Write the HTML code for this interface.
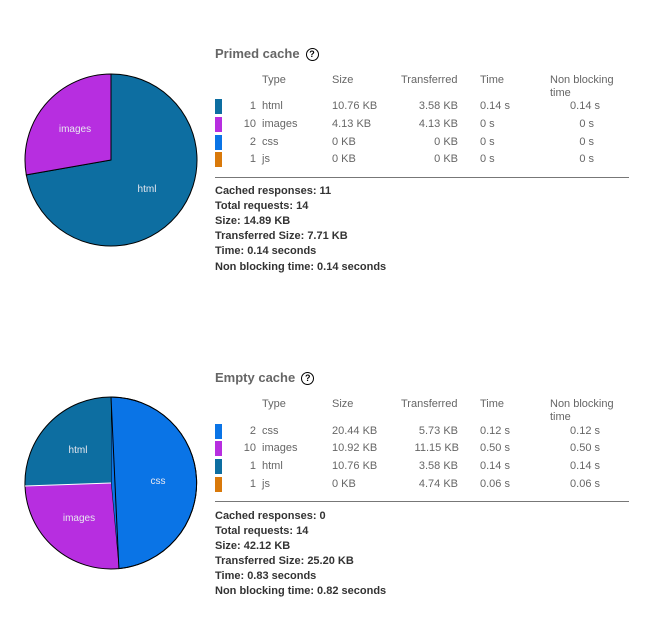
<!DOCTYPE html>
<html><head><style>
body{margin:0;width:655px;height:643px;background:#fff;font-family:"Liberation Sans",sans-serif;position:relative;overflow:hidden}
.a{position:absolute;white-space:nowrap;font-size:11px;color:#666;line-height:13px;margin-top:1px}
.t{position:absolute;font-size:13px;font-weight:bold;color:#666;line-height:15px}
.q{display:inline-block;width:11px;height:11px;border:1.5px solid #000;border-radius:50%;font-size:9px;color:#000;text-align:center;line-height:11px;margin-left:6px;vertical-align:1px}
.s{position:absolute;font-size:11px;font-weight:bold;color:#333;line-height:13px;white-space:nowrap;margin-top:1px}
.sw{position:absolute;width:7px;height:15px}
.r{text-align:right}
.hr{position:absolute;left:215px;width:414px;height:1px;background:#777}
</style></head><body>
<svg width="655" height="643" style="position:absolute;left:0;top:0">
<g stroke="#000" stroke-width="1">
<path d="M111,160 L111,74 A86,86 0 1 1 26.3,174.9 Z" fill="#0d6ea1"/>
<path d="M111,160 L26.3,174.9 A86,86 0 0 1 111,74 Z" fill="#b72ee0"/>
<path d="M111,483 L111,397 A86,86 0 0 1 118.9,568.6 Z" fill="#0a74e6"/>
<path d="M111,483 L118.9,568.6 A86,86 0 0 1 25,486 Z" fill="#b72ee0" stroke="none"/>
<path d="M111,483 L25,486 A86,86 0 0 1 111,397 Z" fill="#0d6ea1" stroke="none"/>
<path d="M111,397 A86,86 0 0 1 118.9,568.6 M118.9,568.6 A86,86 0 0 1 25,486 A86,86 0 0 1 111,397" fill="none"/>
<line x1="111" y1="397" x2="118.9" y2="568.6"/>
</g>
<line x1="111" y1="483" x2="25" y2="486" stroke="#fff" stroke-width="1"/>
<g fill="#e8e8f0" font-family="Liberation Sans, sans-serif" font-size="10" text-anchor="middle">
<text x="75" y="132">images</text><text x="147" y="192">html</text>
<text x="78" y="453">html</text><text x="158" y="484">css</text><text x="79" y="521">images</text>
</g>
</svg>

<div class="t" style="left:215px;top:46px">Primed cache<span class="q">?</span></div>
<div class="a" style="left:262px;top:73px">Type</div>
<div class="a" style="left:332px;top:73px">Size</div>
<div class="a" style="left:401px;top:73px">Transferred</div>
<div class="a" style="left:480px;top:73px">Time</div>
<div class="a" style="left:550px;top:73px">Non blocking<br>time</div>

<div class="sw" style="left:215px;top:99px;background:#0d6ea1"></div>
<div class="sw" style="left:215px;top:117px;background:#b72ee0"></div>
<div class="sw" style="left:215px;top:135px;background:#0a74e6"></div>
<div class="sw" style="left:215px;top:152px;background:#d9790a"></div>

<div class="a r" style="left:226px;width:30px;top:99px">1</div>
<div class="a r" style="left:226px;width:30px;top:117px">10</div>
<div class="a r" style="left:226px;width:30px;top:135px">2</div>
<div class="a r" style="left:226px;width:30px;top:152px">1</div>
<div class="a" style="left:262px;top:99px">html</div>
<div class="a" style="left:262px;top:117px">images</div>
<div class="a" style="left:262px;top:135px">css</div>
<div class="a" style="left:262px;top:152px">js</div>
<div class="a" style="left:332px;top:99px">10.76 KB</div>
<div class="a" style="left:332px;top:117px">4.13 KB</div>
<div class="a" style="left:332px;top:135px">0 KB</div>
<div class="a" style="left:332px;top:152px">0 KB</div>
<div class="a r" style="left:388px;width:70px;top:99px">3.58 KB</div>
<div class="a r" style="left:388px;width:70px;top:117px">4.13 KB</div>
<div class="a r" style="left:388px;width:70px;top:135px">0 KB</div>
<div class="a r" style="left:388px;width:70px;top:152px">0 KB</div>
<div class="a" style="left:480px;top:99px">0.14 s</div>
<div class="a" style="left:480px;top:117px">0 s</div>
<div class="a" style="left:480px;top:135px">0 s</div>
<div class="a" style="left:480px;top:152px">0 s</div>
<div class="a r" style="left:540px;width:60px;top:99px">0.14 s</div>
<div class="a r" style="left:540px;width:54px;top:117px">0 s</div>
<div class="a r" style="left:540px;width:54px;top:135px">0 s</div>
<div class="a r" style="left:540px;width:54px;top:152px">0 s</div>

<div class="hr" style="top:177px"></div>
<div class="s" style="left:215px;top:184px">Cached responses: 11</div>
<div class="s" style="left:215px;top:199px">Total requests: 14</div>
<div class="s" style="left:215px;top:214px">Size: 14.89 KB</div>
<div class="s" style="left:215px;top:229px">Transferred Size: 7.71 KB</div>
<div class="s" style="left:215px;top:244px">Time: 0.14 seconds</div>
<div class="s" style="left:215px;top:260px">Non blocking time: 0.14 seconds</div>

<div class="t" style="left:215px;top:370px">Empty cache<span class="q">?</span></div>
<div class="a" style="left:262px;top:397px">Type</div>
<div class="a" style="left:332px;top:397px">Size</div>
<div class="a" style="left:401px;top:397px">Transferred</div>
<div class="a" style="left:480px;top:397px">Time</div>
<div class="a" style="left:550px;top:397px">Non blocking<br>time</div>

<div class="sw" style="left:215px;top:424px;background:#0a74e6"></div>
<div class="sw" style="left:215px;top:441px;background:#b72ee0"></div>
<div class="sw" style="left:215px;top:459px;background:#0d6ea1"></div>
<div class="sw" style="left:215px;top:477px;background:#d9790a"></div>

<div class="a r" style="left:226px;width:30px;top:424px">2</div>
<div class="a r" style="left:226px;width:30px;top:441px">10</div>
<div class="a r" style="left:226px;width:30px;top:459px">1</div>
<div class="a r" style="left:226px;width:30px;top:477px">1</div>
<div class="a" style="left:262px;top:424px">css</div>
<div class="a" style="left:262px;top:441px">images</div>
<div class="a" style="left:262px;top:459px">html</div>
<div class="a" style="left:262px;top:477px">js</div>
<div class="a" style="left:332px;top:424px">20.44 KB</div>
<div class="a" style="left:332px;top:441px">10.92 KB</div>
<div class="a" style="left:332px;top:459px">10.76 KB</div>
<div class="a" style="left:332px;top:477px">0 KB</div>
<div class="a r" style="left:388px;width:70px;top:424px">5.73 KB</div>
<div class="a r" style="left:388px;width:71px;top:441px">11.15 KB</div>
<div class="a r" style="left:388px;width:70px;top:459px">3.58 KB</div>
<div class="a r" style="left:388px;width:70px;top:477px">4.74 KB</div>
<div class="a" style="left:480px;top:424px">0.12 s</div>
<div class="a" style="left:480px;top:441px">0.50 s</div>
<div class="a" style="left:480px;top:459px">0.14 s</div>
<div class="a" style="left:480px;top:477px">0.06 s</div>
<div class="a r" style="left:540px;width:60px;top:424px">0.12 s</div>
<div class="a r" style="left:540px;width:60px;top:441px">0.50 s</div>
<div class="a r" style="left:540px;width:60px;top:459px">0.14 s</div>
<div class="a r" style="left:540px;width:60px;top:477px">0.06 s</div>

<div class="hr" style="top:501px"></div>
<div class="s" style="left:215px;top:509px">Cached responses: 0</div>
<div class="s" style="left:215px;top:524px">Total requests: 14</div>
<div class="s" style="left:215px;top:539px">Size: 42.12 KB</div>
<div class="s" style="left:215px;top:554px">Transferred Size: 25.20 KB</div>
<div class="s" style="left:215px;top:569px">Time: 0.83 seconds</div>
<div class="s" style="left:215px;top:584px">Non blocking time: 0.82 seconds</div>
</body></html>
